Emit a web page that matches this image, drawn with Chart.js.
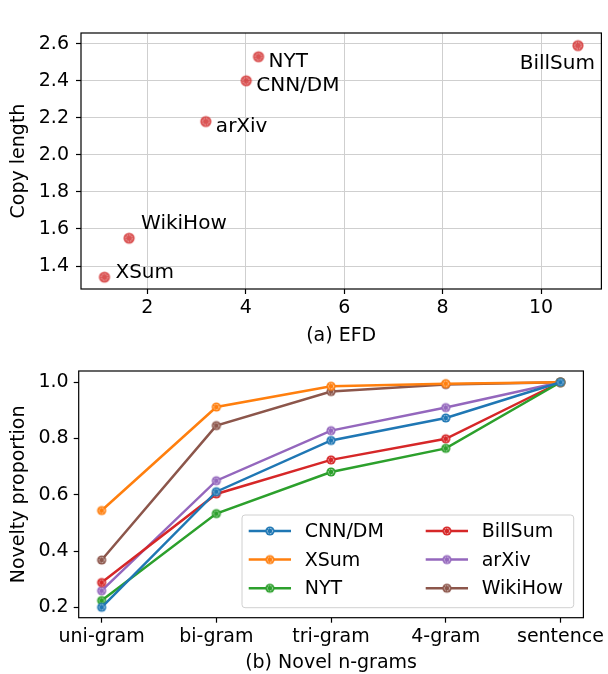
<!DOCTYPE html>
<html>
<head>
<meta charset="utf-8">
<script src="https://cdn.jsdelivr.net/npm/chart.js@4.4.0/dist/chart.umd.min.js"></script>
<style>
  html, body { margin: 0; padding: 0; background: #fff; }
  body { width: 608px; height: 674px; position: relative; overflow: hidden; }
  canvas { position: absolute; left: 0; }
  #c1 { top: 0; }
  #c2 { top: 347px; }
</style>
</head>
<body>
<canvas id="c1" width="608" height="347" style="width:608px;height:347px"></canvas>
<canvas id="c2" width="608" height="327" style="width:608px;height:327px"></canvas>
<script>
// ---------- DATA: (a) EFD vs Copy length ----------
const datasetNames = ['XSum', 'WikiHow', 'arXiv', 'CNN/DM', 'NYT', 'BillSum'];
const efd = [1.13, 1.63, 3.19, 4.01, 4.26, 10.75];
const copyLength = [1.34, 1.55, 2.18, 2.40, 2.53, 2.59];
const efdTicks = [2, 4, 6, 8, 10];
const copyTicks = [1.4, 1.6, 1.8, 2.0, 2.2, 2.4, 2.6];

// ---------- DATA: (b) Novel n-grams ----------
const categories = ['uni-gram', 'bi-gram', 'tri-gram', '4-gram', 'sentence'];
const seriesNames = ['CNN/DM', 'XSum', 'NYT', 'BillSum', 'arXiv', 'WikiHow'];
const cnndm   = [0.200, 0.611, 0.793, 0.873, 1.000];
const xsum    = [0.544, 0.912, 0.986, 0.995, 1.000];
const nyt     = [0.224, 0.533, 0.681, 0.765, 1.000];
const billsum = [0.288, 0.603, 0.724, 0.799, 1.000];
const arxiv   = [0.259, 0.650, 0.828, 0.910, 1.000];
const wikihow = [0.368, 0.846, 0.967, 0.992, 1.000];
const noveltyTicks = [0.2, 0.4, 0.6, 0.8, 1.0];

// ---------- STYLE ----------
const FONT = 'DejaVu Sans';
const seriesColors = ['#1f77b4', '#ff7f0e', '#2ca02c', '#d62728', '#9467bd', '#8c564b'];
const scatterColor = 'rgba(210,45,45,0.82)';

function makeMarker(color, r, ringAlpha) {
  const c = document.createElement('canvas');
  const s = Math.ceil(r * 2 + 2);
  c.width = s; c.height = s;
  const g = c.getContext('2d');
  const m = s / 2;
  g.fillStyle = color;
  g.beginPath(); g.arc(m, m, r, 0, Math.PI * 2); g.fill();
  g.strokeStyle = 'rgba(255,255,255,' + ringAlpha + ')';
  g.lineWidth = 1;
  g.setLineDash([1.5, 1]);
  g.beginPath(); g.arc(m, m, r * 0.58, 0, Math.PI * 2); g.stroke();
  return c;
}

const framePlugin = {
  id: 'frame',
  afterDraw(chart) {
    const a = chart.chartArea, g = chart.ctx;
    g.save();
    g.strokeStyle = '#000';
    g.lineWidth = 1.2;
    g.strokeRect(a.left, a.top, a.right - a.left, a.bottom - a.top);
    g.restore();
  }
};

function fixedTicks(list) {
  return function (scale) { scale.ticks = list.map(v => ({ value: v })); };
}

// ---------- CHART (a) ----------
const labelPlacement = {
  'XSum':    { dx: 11, dy: 1,    align: 'left' },
  'WikiHow': { dx: 12, dy: -9,   align: 'left' },
  'arXiv':   { dx: 10, dy: 10,   align: 'left' },
  'CNN/DM':  { dx: 10, dy: 10,   align: 'left' },
  'NYT':     { dx: 10, dy: 10,   align: 'left' },
  'BillSum': { dx: 17, dy: 23,   align: 'right' }
};

const pointLabelPlugin = {
  id: 'pointLabels',
  afterDatasetsDraw(chart) {
    const g = chart.ctx;
    const meta = chart.getDatasetMeta(0);
    g.save();
    g.font = '20px "' + FONT + '"';
    g.fillStyle = '#000';
    g.textBaseline = 'alphabetic';
    meta.data.forEach((pt, i) => {
      const name = datasetNames[i];
      const p = labelPlacement[name];
      g.textAlign = p.align;
      g.fillText(name, pt.x + p.dx, pt.y + p.dy);
    });
    g.restore();
  }
};

const markerA = makeMarker(scatterColor, 5.6, 0.55);

new Chart(document.getElementById('c1'), {
  type: 'scatter',
  data: {
    datasets: [{
      data: efd.map((x, i) => ({ x: x, y: copyLength[i] })),
      pointStyle: markerA,
      pointRadius: 5.6,
      pointHoverRadius: 5.6
    }]
  },
  options: {
    responsive: false,
    animation: false,
    events: [],
    layout: { padding: { top: 33, right: 1, left: 0, bottom: 0 } },
    plugins: { legend: { display: false }, tooltip: { enabled: false } },
    scales: {
      x: {
        type: 'linear', min: 0.653, max: 11.226,
        afterBuildTicks: fixedTicks(efdTicks),
        afterFit(s) { s.height = 58; },
        grid: { color: '#cfcfcf', lineWidth: 1, tickLength: 5, tickColor: '#000', tickWidth: 1.2 },
        border: { display: false },
        ticks: { color: '#000', font: { family: FONT, size: 19 }, padding: 3, maxRotation: 0,
                 callback: v => String(v) },
        title: { display: true, text: '(a) EFD', color: '#000', font: { family: FONT, size: 19 },
                 padding: { top: 0, bottom: 0 } }
      },
      y: {
        type: 'linear', min: 1.276, max: 2.658,
        afterBuildTicks: fixedTicks(copyTicks),
        afterFit(s) { s.width = 81; },
        grid: { color: '#cfcfcf', lineWidth: 1, tickLength: 5, tickColor: '#000', tickWidth: 1.2 },
        border: { display: false },
        ticks: { color: '#000', font: { family: FONT, size: 19 }, padding: 7,
                 callback: v => Number(v).toFixed(1) },
        title: { display: true, text: 'Copy length', color: '#000', font: { family: FONT, size: 19 },
                 padding: { top: 8, bottom: 0 } }
      }
    }
  },
  plugins: [framePlugin, pointLabelPlugin]
});

// ---------- CHART (b) ----------
const seriesValues = [cnndm, xsum, nyt, billsum, arxiv, wikihow];
const markersB = seriesColors.map(c => makeMarker(c, 4.6, 0.7));

const legendPlugin = {
  id: 'boxLegend',
  afterDraw(chart) {
    const a = chart.chartArea, g = chart.ctx;
    const right = a.right - 9.7, bottom = a.bottom - 10;
    const w = 331.7, h = 92.7;
    const left = right - w, top = bottom - h;
    g.save();
    const r = 3;
    g.beginPath();
    g.moveTo(left + r, top);
    g.lineTo(right - r, top); g.arcTo(right, top, right, top + r, r);
    g.lineTo(right, bottom - r); g.arcTo(right, bottom, right - r, bottom, r);
    g.lineTo(left + r, bottom); g.arcTo(left, bottom, left, bottom - r, r);
    g.lineTo(left, top + r); g.arcTo(left, top, left + r, top, r);
    g.closePath();
    g.fillStyle = 'rgba(255,255,255,0.8)';
    g.fill();
    g.strokeStyle = '#d0d0d0';
    g.lineWidth = 1;
    g.stroke();
    g.font = '19px "' + FONT + '"';
    g.textBaseline = 'middle';
    g.textAlign = 'left';
    const ds = chart.data.datasets;
    ds.forEach((d, i) => {
      const col = Math.floor(i / 3), row = i % 3;
      const x0 = left + 6.7 + col * 177;
      const y = top + 16 + row * 28.6;
      g.strokeStyle = d.borderColor;
      g.lineWidth = 2.5;
      g.beginPath(); g.moveTo(x0, y); g.lineTo(x0 + 42.3, y); g.stroke();
      const m = d.pointStyle;
      g.drawImage(m, x0 + 21.2 - m.width / 2, y - m.height / 2);
      g.fillStyle = '#000';
      g.fillText(d.label, x0 + 56, y + 1);
    });
    g.restore();
  }
};

new Chart(document.getElementById('c2'), {
  type: 'line',
  data: {
    datasets: seriesNames.map((name, i) => ({
      label: name,
      data: seriesValues[i].map((v, k) => ({ x: k, y: v })),
      borderColor: seriesColors[i],
      backgroundColor: seriesColors[i],
      borderWidth: 2.5,
      pointStyle: markersB[i],
      pointRadius: 4.6,
      pointHoverRadius: 4.6,
      tension: 0,
      fill: false
    }))
  },
  options: {
    responsive: false,
    animation: false,
    events: [],
    layout: { padding: { top: 24, right: 23.3, left: 0, bottom: 0 } },
    plugins: { legend: { display: false }, tooltip: { enabled: false } },
    scales: {
      x: {
        type: 'linear', min: -0.2, max: 4.2,
        afterBuildTicks: fixedTicks(categories.map((c, i) => i)),
        afterFit(s) { s.height = 56.3; },
        grid: { drawOnChartArea: false, tickLength: 5, tickColor: '#000', tickWidth: 1.2 },
        border: { display: false },
        ticks: { color: '#000', font: { family: FONT, size: 19 }, padding: 3, maxRotation: 0,
                 autoSkip: false, callback: v => categories[v] },
        title: { display: true, text: '(b) Novel n-grams', color: '#000', font: { family: FONT, size: 19 },
                 padding: { top: 0, bottom: 0 } }
      },
      y: {
        type: 'linear', min: 0.163, max: 1.040,
        afterBuildTicks: fixedTicks(noveltyTicks),
        afterFit(s) { s.width = 78.7; },
        grid: { drawOnChartArea: false, tickLength: 5, tickColor: '#000', tickWidth: 1.2 },
        border: { display: false },
        ticks: { color: '#000', font: { family: FONT, size: 19 }, padding: 5,
                 callback: v => Number(v).toFixed(1) },
        title: { display: true, text: 'Novelty proportion', color: '#000', font: { family: FONT, size: 19 },
                 padding: { top: 8, bottom: 0 } }
      }
    }
  },
  plugins: [framePlugin, legendPlugin]
});
</script>
</body>
</html>
